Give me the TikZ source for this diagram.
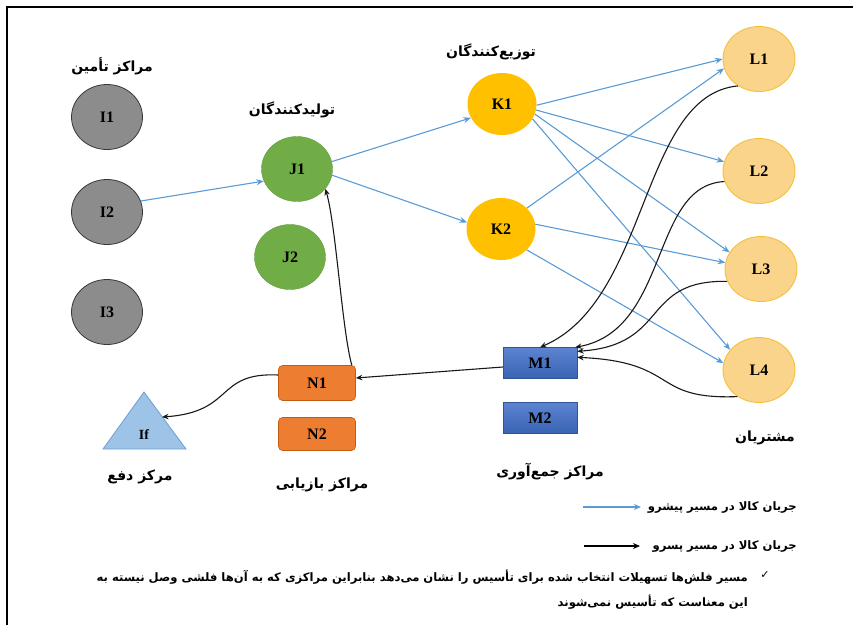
\documentclass[tikz,border=0pt]{standalone}
\usepackage{fontspec}
\setmainfont{Liberation Serif}
\newfontfamily\fa[Script=Arabic]{DejaVu Sans}
\newfontfamily\symf{DejaVu Sans}
\TeXXeTstate=1
\usetikzlibrary{arrows.meta,shapes.geometric}
\definecolor{fwdblue}{RGB}{91,155,213}
\definecolor{grayfill}{RGB}{140,140,140}
\definecolor{grayedge}{RGB}{55,55,55}
\definecolor{jgreen}{RGB}{112,173,71}
\definecolor{kgold}{RGB}{255,192,0}
\definecolor{lfill}{RGB}{251,212,140}
\definecolor{ledge}{RGB}{244,192,60}
\definecolor{mblue}{RGB}{63,110,200}
\definecolor{medge}{RGB}{47,85,151}
\definecolor{norange}{RGB}{237,125,49}
\definecolor{nedge}{RGB}{197,90,17}
\definecolor{trifill}{RGB}{157,195,230}
\definecolor{triedge}{RGB}{110,160,210}
\newcommand{\fatext}[1]{\beginR #1\endR}
\begin{document}
\begin{tikzpicture}[x=1pt,y=-1pt,
  latin/.style={font=\bfseries\fontsize{16}{16}\selectfont},
  circ/.style={ellipse, inner sep=0pt, minimum width=71pt, minimum height=65pt, latin},
  supp/.style={circ, draw=grayedge, fill=grayfill, line width=0.8pt},
  prod/.style={circ, fill=jgreen, draw=jgreen!90!black, line width=0.4pt},
  dist/.style={circ, fill=kgold, minimum width=69pt, minimum height=62pt},
  cust/.style={circ, fill=lfill, draw=ledge, line width=0.9pt, minimum width=72pt},
  coll/.style={rectangle, top color=mblue!85!white, bottom color=mblue!90!black, draw=medge, line width=0.4pt, minimum width=74pt, minimum height=31pt, inner sep=0pt, latin},
  recv/.style={rectangle, rounded corners=4pt, fill=norange, draw=nedge, line width=0.6pt, minimum width=77pt, minimum height=35pt, inner sep=0pt, latin},
  title/.style={font=\fa\bfseries\fontsize{14}{16}\selectfont, inner sep=0pt},
  fwd/.style={draw=fwdblue, line width=1.1pt, -{Stealth[length=7.5pt,width=6pt]}},
  back/.style={draw=black!90, line width=1.1pt, -{Stealth[length=6.5pt,width=5.5pt]}},
  note/.style={font=\fa\bfseries\fontsize{11.6}{13}\selectfont, inner sep=0pt}
]
\useasboundingbox (0,0) rectangle (853,625);
% frame
\draw[line width=1.4pt] (7,625) -- (7,7) -- (853,7);

% supply centres
\node[supp] (I1) at (107,117) {I1};
\node[supp] (I2) at (107,212) {I2};
\node[supp] (I3) at (107,312) {I3};
% producers
\node[prod] (J1) at (297,169) {J1};
\node[prod] (J2) at (290,257) {J2};
% distributors
\node[dist] (K1) at (502,104) {K1};
\node[dist] (K2) at (501,229) {K2};
% customers
\node[cust] (L1) at (759,59) {L1};
\node[cust] (L2) at (759,171) {L2};
\node[cust] (L3) at (761,269) {L3};
\node[cust] (L4) at (759,370) {L4};
% collection
\node[coll] (M1) at (540,363) {M1};
\node[coll] (M2) at (540,418) {M2};
% recovery
\node[recv] (N1) at (317,383) {N1};
\node[recv, minimum height=33pt] (N2) at (317,434) {N2};
% disposal triangle
\filldraw[fill=trifill, draw=triedge, line width=0.8pt] (144,392) -- (186,449) -- (103,449) -- cycle;
\node[latin, font=\bfseries\fontsize{14}{14}\selectfont] (If) at (144,435) {If};
\coordinate (ifside) at (162,417);

% titles
\node[title] (tI) at (112,66) {\fatext{مراکز تأمین}};
\node[title] (tJ) at (292,110) {\fatext{تولیدکنندگان}};
\node[title] (tK) at (491,52) {\fatext{توزیع‌کنندگان}};
\node[title] (tL) at (765,438) {\fatext{مشتریان}};
\node[title] (tM) at (550,472) {\fatext{مراکز جمع‌آوری}};
\node[title] (tN) at (322,485) {\fatext{مراکز بازیابی}};
\node[title] (tF) at (140,477) {\fatext{مرکز دفع}};

% forward flows
\draw[fwd] (I2.18) -- (J1.200);
\draw[fwd] (J1.12) -- (K1.204);
\draw[fwd] (J1.-10) -- (K2.169);
\draw[fwd] (K1.-2) -- (L1.west);
\draw[fwd] (K1.-10) -- (L2.165);
\draw[fwd] (K1.-17) -- (L3.152);
\draw[fwd] (K1.-26) -- (L4.145);
\draw[fwd] (K2.39) -- (L1.195);
\draw[fwd] (K2.8) -- (L3.170);
\draw[fwd] (K2.-39) -- (L4.169);

% reverse flows
\draw[back] (L1.232) .. controls (640,95) and (650,300) .. (M1.north);
\draw[back] (L2.197) .. controls (650,185) and (670,330) .. ([xshift=-2pt]M1.north east);
\draw[back] (L3.200) .. controls (640,280) and (670,345) .. ([yshift=-4pt]M1.north east);
\draw[back] (L4.231) .. controls (650,400) and (680,362) .. ([yshift=-10pt]M1.north east);
\draw[back] ([yshift=-4pt]M1.west) -- ([yshift=5pt]N1.east);
\draw[back] ([xshift=-4pt]N1.north east) .. controls (342,330) and (336,225) .. (J1.-35);
\draw[back] ([yshift=8pt]N1.west) .. controls (215,372) and (235,412) .. (ifside);

% legend
\coordinate (lg1a) at (583,507);
\coordinate (lg1b) at (641,507);
\coordinate (lg2a) at (584,546);
\coordinate (lg2b) at (640,546);
\draw[draw=fwdblue, line width=1.8pt, -{Stealth[length=7pt,width=6pt]}] (lg1a) -- (lg1b);
\draw[draw=black, line width=1.8pt, -{Stealth[length=7pt,width=6pt]}] (lg2a) -- (lg2b);
\node[note, anchor=east] (lgt1) at (797,507) {\fatext{جریان کالا در مسیر پیشرو}};
\node[note, anchor=east] (lgt2) at (797,546) {\fatext{جریان کالا در مسیر پسرو}};

% note
\node[font=\symf\fontsize{11}{11}\selectfont, inner sep=0pt] (chk) at (765,575) {✓};
\node[note, anchor=east] (n1) at (748,577) {\fatext{مسیر فلش‌ها تسهیلات انتخاب شده برای تأسیس را نشان می‌دهد بنابراین مراکزی که به آن‌ها فلشی وصل نیسته به}};
\node[note, anchor=east] (n2) at (748,602) {\fatext{این معناست که تأسیس نمی‌شوند}};
\end{tikzpicture}
\end{document}
